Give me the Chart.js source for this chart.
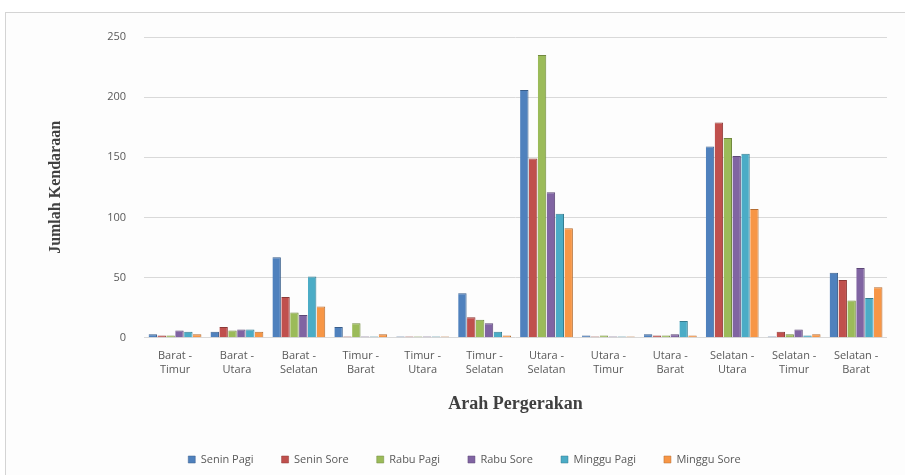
<!DOCTYPE html>
<html>
<head>
<meta charset="utf-8">
<script src="https://cdn.jsdelivr.net/npm/chart.js@4"></script>
<style>
  html, body { margin: 0; padding: 0; background: #ffffff; }
  .frame {
    position: absolute; left: 5px; top: 12px; width: 905px; height: 470px;
    border: 1px solid #d4d4d4; background: #fdfdfd; box-sizing: border-box;
  }
  #chart { position: absolute; left: 0; top: 0; }
</style>
</head>
<body>
<div class="frame"></div>
<canvas id="chart" width="905" height="475"></canvas>
<script>
const categories = [
  ['Barat -', 'Timur'], ['Barat -', 'Utara'], ['Barat -', 'Selatan'],
  ['Timur -', 'Barat'], ['Timur -', 'Utara'], ['Timur -', 'Selatan'],
  ['Utara -', 'Selatan'], ['Utara -', 'Timur'], ['Utara -', 'Barat'],
  ['Selatan -', 'Utara'], ['Selatan -', 'Timur'], ['Selatan -', 'Barat']
];

const seninPagi   = [3, 5, 67, 9, 1, 37, 206, 2, 3, 159, 1, 54];
const seninSore   = [2, 9, 34, 1, 1, 17, 149, 1, 2, 179, 5, 48];
const rabuPagi    = [2, 6, 21, 12, 1, 15, 235, 2, 2, 166, 3, 31];
const rabuSore    = [6, 7, 19, 1, 1, 12, 121, 1, 3, 151, 7, 58];
const mingguPagi  = [5, 7, 51, 1, 1, 5, 103, 1, 14, 153, 2, 33];
const mingguSore  = [3, 5, 26, 3, 1, 2, 91, 1, 2, 107, 3, 42];

const seriesNames = ['Senin Pagi', 'Senin Sore', 'Rabu Pagi', 'Rabu Sore', 'Minggu Pagi', 'Minggu Sore'];
const seriesValues = [seninPagi, seninSore, rabuPagi, rabuSore, mingguPagi, mingguSore];
const colors = ['#4f81bd', '#c0504d', '#9bbb59', '#8064a2', '#4bacc6', '#f79646'];
const borders = ['#385d8a', '#8c3836', '#71893f', '#5c4776', '#357d91', '#b66d31'];

const yTicks = [0, 50, 100, 150, 200, 250];

const serif = '"Liberation Serif", "DejaVu Serif", serif';
const sans = '"Open Sans", "Noto Sans", sans-serif';

new Chart(document.getElementById('chart'), {
  type: 'bar',
  data: {
    labels: categories,
    datasets: seriesNames.map((name, i) => ({
      label: name,
      data: seriesValues[i],
      backgroundColor: colors[i],
      borderColor: borders[i],
      borderWidth: {left: 0, right: 1, top: 1, bottom: 0},
      categoryPercentage: 0.86,
      barPercentage: 0.95,
    })),
  },
  options: {
    responsive: false,
    animation: false,
    layout: {padding: {left: 42, right: 18, top: 37, bottom: 0}},
    plugins: {
      legend: {
        position: 'bottom',
        labels: {
          boxWidth: 7, boxHeight: 7, padding: 28,
          color: '#595959', font: {family: sans, size: 11},
        },
      },
      tooltip: {enabled: false},
    },
    scales: {
      x: {
        grid: {display: false},
        border: {display: false},
        ticks: {color: '#595959', font: {family: sans, size: 11, lineHeight: 1.3}, maxRotation: 0, autoSkip: false},
        title: {
          display: true, text: 'Arah Pergerakan', color: '#404040',
          font: {family: serif, size: 18, weight: 'bold'}, padding: {top: 13, bottom: 11},
        },
      },
      y: {
        min: 0, max: 250,
        afterBuildTicks: (axis) => { axis.ticks = yTicks.map((v) => ({value: v})); },
        grid: {color: '#d9d9d9', drawTicks: false},
        border: {display: false},
        ticks: {color: '#595959', font: {family: sans, size: 11}, padding: 18},
        title: {
          display: true, text: 'Jumlah Kendaraan', color: '#404040',
          font: {family: serif, size: 16, weight: 'bold'}, padding: {bottom: 24},
        },
      },
    },
  },
});
</script>
</body>
</html>
